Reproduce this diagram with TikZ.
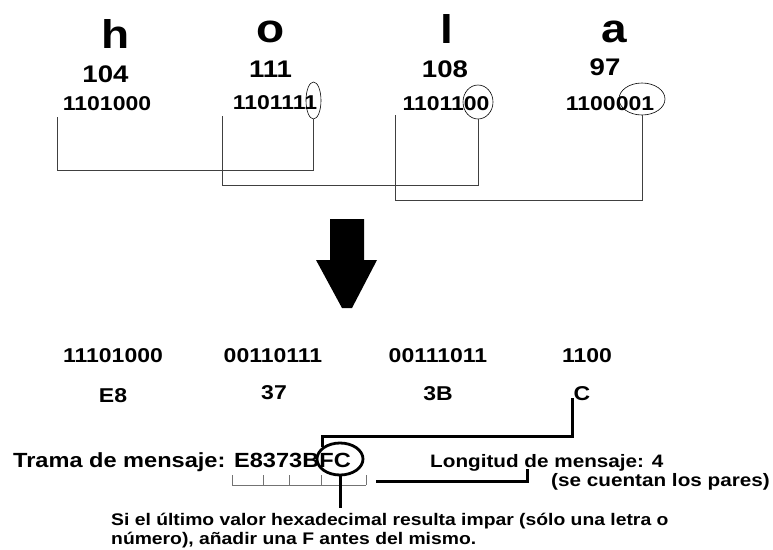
\documentclass[tikz,border=0pt]{standalone}
\usepackage{fontspec}
\setmainfont{Liberation Sans}[FakeStretch=1.15]
\usetikzlibrary{shapes.geometric}
\tikzset{
  txt/.style={inner sep=0pt, anchor=base, font=\fontsize{#1}{#1}\selectfont\bfseries},
  conn/.style={draw=black!75, line width=0.9pt},
  ring/.style={draw=black, ellipse, line width=0.6pt, inner sep=0pt},
  heavy/.style={draw=black, line width=3pt},
  rule/.style={draw=black!55, line width=1pt},
}
\begin{document}
\begin{tikzpicture}[x=1pt,y=-1pt]
\useasboundingbox[fill=white] (0,0) rectangle (773,549);
% letters
\node[txt=40] (h) at (116,48) {h};
\node[txt=40] (o) at (271,42) {o};
\node[txt=40] (l) at (447,43) {l};
\node[txt=40] (a) at (614,42) {a};
% decimal
\node[txt=24] (d1) at (105.5,82) {104};
\node[txt=24] (d2) at (270.5,77) {111};
\node[txt=24] (d3) at (445,77) {108};
\node[txt=24] (d4) at (605,75) {97};
% binary
\node[txt=20] (b1) at (107,110) {1101000};
\node[txt=20] (b2) at (275,109) {1101111};
\node[txt=20] (b3) at (446,110) {1101100};
\node[txt=20] (b4) at (610,110) {1100001};
% ellipses
\node[ring, minimum width=15, minimum height=37] (e1) at (313.5,100.5) {};
\node[ring, minimum width=30, minimum height=34] (e2) at (478,102) {};
\node[ring, minimum width=46, minimum height=32] (e3) at (642,99) {};
% connectors
\coordinate (s1) at (57,117);
\coordinate (s2) at (222,116);
\coordinate (s3) at (395,115);
\draw[conn] (s1) -- (57,170) -| (e1.south);
\draw[conn] (s2) -- (222,185) -| (e2.south);
\draw[conn] (s3) -- (395,200) -| (e3.south);
% big arrow
\fill[black] (330,219) -- (364,219) -- (364,260) -- (377,260) -- (352,308)
  -- (342,308) -- (316,260) -- (330,260) -- cycle;
% new binary
\node[txt=20] (n1) at (113,362) {11101000};
\node[txt=20] (n2) at (273,362) {00110111};
\node[txt=20] (n3) at (438,362) {00111011};
\node[txt=20] (n4) at (587,362) {1100};
% hex
\node[txt=20] (x1) at (113,402) {E8};
\node[txt=20] (x2) at (274,399) {37};
\node[txt=20] (x3) at (438,400) {3B};
\node[txt=20] (x4) at (582,400) {C};
% trama
\node[txt=20.5, anchor=base west] (trama) at (13,467) {Trama de mensaje: E8373BFC};
\node[draw=black, ellipse, line width=2.8pt, inner sep=0pt, minimum width=46, minimum height=32] (fc) at (340,459) {};
\coordinate (cTop) at (572,398);
\draw[heavy] (cTop) -- (572,436) -| (fc.north west);
% ruler
\draw[rule] (232,485) -- (366,485);
\foreach \t in {232,263,289,321,366} \draw[rule] (\t,475) -- (\t,485);
% longitud
\node[txt=18, anchor=base west] (lon) at (430,467) {Longitud de mensaje: 4};
\node[txt=18, anchor=base east] (par) at (770,486) {(se cuentan los pares)};
\coordinate (rEnd) at (376,481);
\coordinate (lonTick) at (527,469);
\draw[heavy] (rEnd) -| (lonTick);
% note
\coordinate (nt) at (340,508);
\draw[heavy] (fc.south) -- (nt);
\node[txt=16.8, anchor=base west] (noteA) at (111,525) {Si el último valor hexadecimal resulta impar (sólo una letra o};
\node[txt=16.8, anchor=base west] (noteB) at (111,544) {número), añadir una F antes del mismo.};
\end{tikzpicture}
\end{document}
